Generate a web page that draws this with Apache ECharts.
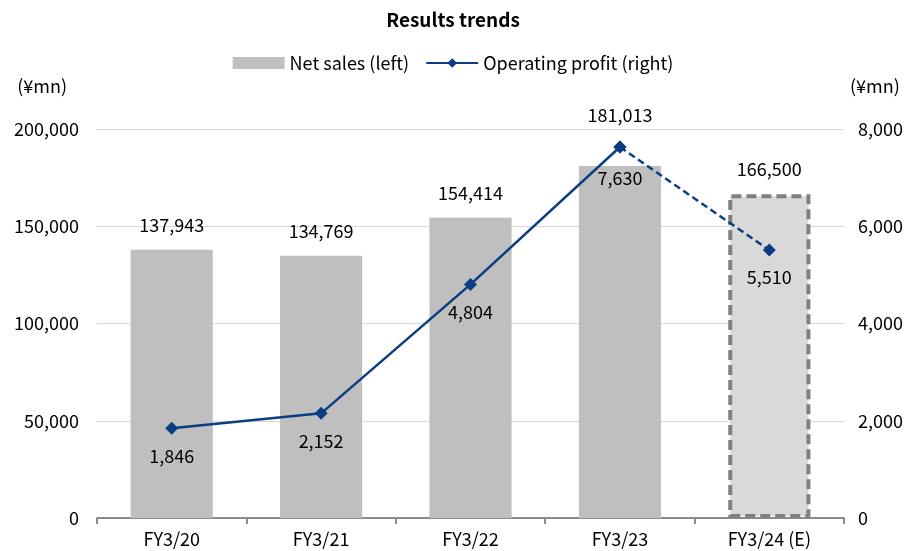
<!DOCTYPE html>
<html>
<head>
<meta charset="utf-8">
<script src="https://cdn.jsdelivr.net/npm/echarts@6/dist/echarts.min.js"></script>
<style>
  html, body { margin: 0; padding: 0; background: #fff; }
  #chart { width: 906px; height: 551px; }
</style>
</head>
<body>
<div id="chart"></div>
<script>
const categories = ["FY3/20", "FY3/21", "FY3/22", "FY3/23", "FY3/24 (E)"];
const netSales = [137943, 134769, 154414, 181013, 166500];
const operatingProfit = [1846, 2152, 4804, 7630, 5510];
const leftTicks = [0, 50000, 100000, 150000, 200000];
const rightTicks = [0, 2000, 4000, 6000, 8000];

const FONT = "Noto Sans CJK JP";
const FS = 18;
const BLUE = "#0b3d82";
const lastIdx = categories.length - 1;

const fmt = (v) => v.toLocaleString("en-US");

const chart = echarts.init(document.getElementById("chart"));

chart.setOption({
  animation: false,
  textStyle: { fontFamily: FONT, color: "#000" },
  title: {
    text: "Results trends",
    left: "center",
    top: 5,
    textStyle: { fontFamily: FONT, fontSize: 19, fontWeight: "bold", color: "#000" },
  },
  legend: {
    top: 49,
    left: "center",
    itemWidth: 52,
    itemHeight: 12,
    itemGap: 16,
    textStyle: { fontFamily: FONT, fontSize: FS, color: "#000" },
    data: [
      { name: "Net sales (left)", icon: "rect" },
      { name: "Operating profit (right)" },
    ],
  },
  grid: { left: 97, right: 60, top: 129, bottom: 33 },
  xAxis: {
    type: "category",
    data: categories,
    axisLine: { lineStyle: { color: "#8c8c8c", width: 2 } },
    axisTick: { show: true, length: 6, lineStyle: { color: "#8c8c8c", width: 2 } },
    axisLabel: { fontFamily: FONT, fontSize: FS, color: "#000", margin: 12 },
  },
  yAxis: [
    {
      type: "value",
      min: leftTicks[0],
      max: leftTicks[leftTicks.length - 1],
      interval: leftTicks[1] - leftTicks[0],
      name: "(¥mn)",
      nameLocation: "end",
      nameGap: 34,
      nameTextStyle: { fontFamily: FONT, fontSize: FS, color: "#000", align: "right", padding: [0, 30, 0, 0] },
      axisLine: { show: false },
      axisTick: { show: false },
      splitLine: { lineStyle: { color: "#d9d9d9", width: 1 } },
      axisLabel: { fontFamily: FONT, fontSize: FS, color: "#000", margin: 18, formatter: fmt },
    },
    {
      type: "value",
      min: rightTicks[0],
      max: rightTicks[rightTicks.length - 1],
      interval: rightTicks[1] - rightTicks[0],
      name: "(¥mn)",
      nameLocation: "end",
      nameGap: 34,
      nameTextStyle: { fontFamily: FONT, fontSize: FS, color: "#000", align: "left", padding: [0, 0, 0, 6] },
      axisLine: { show: false },
      axisTick: { show: false },
      splitLine: { show: false },
      axisLabel: { fontFamily: FONT, fontSize: FS, color: "#000", margin: 14, formatter: fmt },
    },
  ],
  series: [
    {
      name: "Net sales (left)",
      type: "bar",
      yAxisIndex: 0,
      barWidth: "55%",
      itemStyle: { color: "#bfbfbf" },
      data: netSales.map((v, i) => {
        const item = {
          value: v,
          label: {
            show: true,
            position: "top",
            // FY3/23 label sits above the profit marker
            distance: i === 3 ? 42 : 16,
            fontFamily: FONT,
            fontSize: FS,
            color: "#000",
            formatter: (p) => fmt(p.value),
          },
        };
        if (i === lastIdx) {
          item.itemStyle = {
            color: "#d9d9d9",
            borderColor: "#808080",
            borderType: [10, 5],
            borderWidth: 4,
          };
        }
        return item;
      }),
      z: 1,
    },
    {
      name: "Operating profit (right)",
      type: "line",
      yAxisIndex: 1,
      symbol: "diamond",
      symbolSize: 13,
      lineStyle: { color: BLUE, width: 2.5 },
      itemStyle: { color: BLUE },
      data: operatingProfit.map((v, i) => ({
        value: i === lastIdx ? "-" : v,
        label: {
          show: true,
          position: "bottom",
          distance: i === 3 ? 16 : 12,
          fontFamily: FONT,
          fontSize: FS,
          color: "#000",
          formatter: (p) => fmt(p.value),
        },
      })),
      z: 3,
    },
    {
      name: "Operating profit (right)",
      type: "line",
      yAxisIndex: 1,
      symbol: "diamond",
      symbolSize: 13,
      lineStyle: { color: BLUE, width: 2.5, type: [7, 4] },
      itemStyle: { color: BLUE },
      data: operatingProfit.map((v, i) => ({
        value: i >= lastIdx - 1 ? v : "-",
        label: {
          show: i === lastIdx,
          position: "bottom",
          distance: 12,
          fontFamily: FONT,
          fontSize: FS,
          color: "#000",
          formatter: (p) => fmt(p.value),
        },
      })),
      z: 2,
    },
  ],
});
</script>
</body>
</html>
